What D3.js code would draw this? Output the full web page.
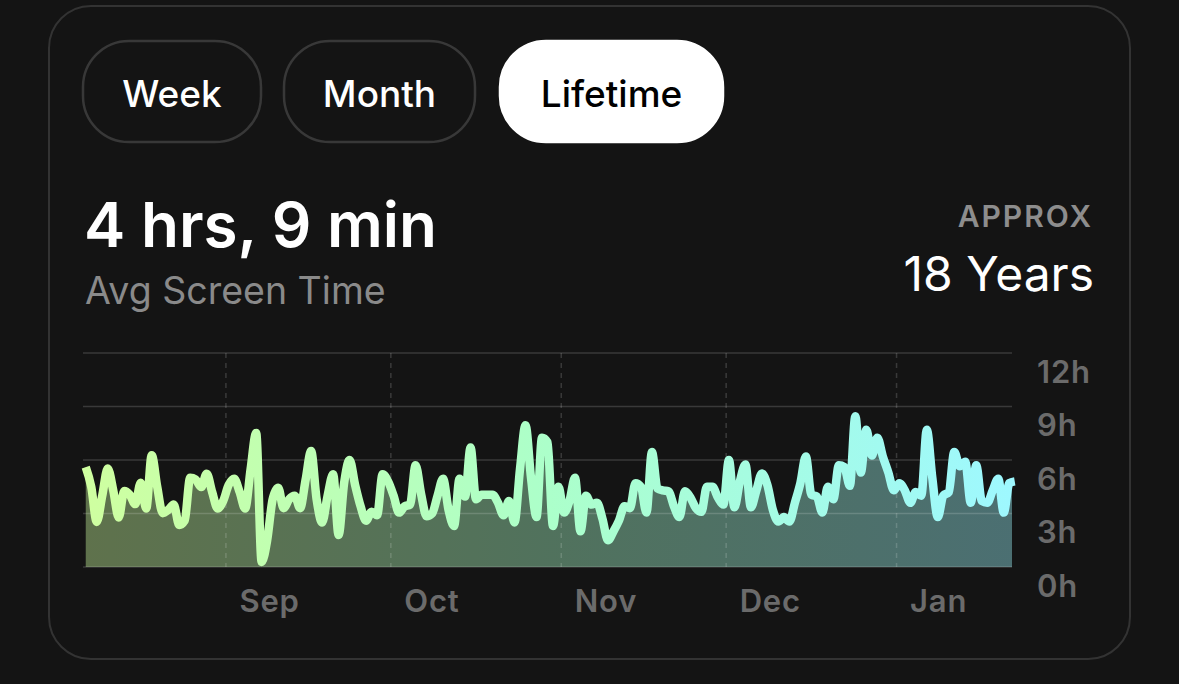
<!DOCTYPE html>
<html>
<head>
<meta charset="utf-8">
<script src="https://cdn.jsdelivr.net/npm/d3@7"></script>
<style>
  html, body { margin: 0; padding: 0; background: #141414; }
  svg { display: block; }
  text { font-family: Inter, "Noto Sans", sans-serif; }
</style>
</head>
<body>
<svg id="chart" width="1179" height="684"></svg>
<script>
// ---- data ----
const tabs = ["Week", "Month", "Lifetime"];
const selectedTab = "Lifetime";
const headline = "4 hrs, 9 min";
const subline = "Avg Screen Time";
const approxLabel = "APPROX";
const approxValue = "18 Years";

const startDay = "2023-08-06";
const hours = [
  5.6, 4.5, 2.53, 4.0, 5.52, 4.3, 2.78, 4.26, 4.05, 3.53,
  4.73, 3.28, 6.27, 4.5, 3.02, 3.2, 3.51, 2.35, 2.6, 5.0,
  4.9, 4.48, 5.23, 4.2, 3.28, 3.7, 4.6, 4.95, 4.2, 3.28,
  5.5, 7.52, 0.28, 1.5, 3.8, 4.45, 3.3, 3.8, 4.0, 3.3,
  4.9, 6.5, 3.8, 2.5, 4.0, 5.2, 1.8, 4.7, 6.0, 4.6,
  3.4, 2.6, 3.1, 2.9, 5.2, 4.8, 4.0, 3.05, 3.4, 3.5,
  5.7, 4.1, 2.85, 3.0, 4.0, 4.95, 3.2, 2.3, 4.95, 3.95,
  6.7, 3.8, 4.05, 4.05, 4.05, 3.6, 2.9, 3.7, 2.5, 5.5,
  7.95, 5.0, 2.8, 7.25, 7.0, 2.3, 4.5, 3.05, 3.7, 5.0,
  2.0, 4.0, 3.5, 3.6, 2.7, 1.5, 2.0, 2.6, 3.4, 3.3,
  4.7, 4.5, 3.05, 6.45, 4.4, 4.3, 4.25, 3.4, 2.8, 4.25,
  3.9, 3.3, 3.1, 4.5, 4.5, 3.9, 3.5, 6.0, 3.35, 4.8,
  5.75, 3.35, 4.3, 5.25, 4.6, 3.2, 2.55, 2.8, 2.55, 3.6,
  4.7, 6.2, 4.05, 3.95, 3.05, 4.5, 3.8, 5.7, 5.6, 4.55,
  8.45, 5.3, 7.7, 6.25, 7.25, 6.2, 5.3, 4.3, 4.7, 4.3,
  3.6, 4.2, 4.0, 7.7, 5.0, 2.8, 4.0, 4.2, 6.45, 5.65,
  5.9, 3.6, 5.7, 3.7, 3.6, 4.3, 4.95, 3.05, 4.7, 4.8
];
const domainStart = "2023-08-06";
const domainEnd = "2024-01-22";
const monthTicks = ["2023-09-01", "2023-10-01", "2023-11-01", "2023-12-01", "2024-01-01"];
const yTicks = [0, 3, 6, 9, 12];

// ---- drawing ----
const parse = d3.timeParse("%Y-%m-%d");
const start = parse(startDay);
const series = hours.map((h, i) => ({
  date: d3.timeHour.offset(d3.timeDay.offset(start, i), 12),
  value: h
}));

const svg = d3.select("#chart");
const bg = "#141414";

// card
svg.append("rect")
  .attr("x", 49).attr("y", 6).attr("width", 1081).attr("height", 653)
  .attr("rx", 42).attr("ry", 42)
  .attr("fill", bg).attr("stroke", "#333333").attr("stroke-width", 2);

// tabs
const tabBoxes = [
  { x: 83, w: 178 },
  { x: 284, w: 191 },
  { x: 500, w: 223 }
];
const tabG = svg.append("g");
tabs.forEach((t, i) => {
  const sel = t === selectedTab;
  const b = tabBoxes[i];
  tabG.append("rect")
    .attr("x", b.x).attr("y", 41).attr("width", b.w).attr("height", 101)
    .attr("rx", 46).attr("ry", 46)
    .attr("fill", sel ? "#ffffff" : bg)
    .attr("stroke", sel ? "#ffffff" : "#383838")
    .attr("stroke-width", 2.5);
  tabG.append("text")
    .attr("x", b.x + b.w / 2).attr("y", 107)
    .attr("text-anchor", "middle")
    .attr("font-size", 37).attr("font-weight", 500)
    .attr("fill", sel ? "#000000" : "#ffffff")
    .text(t);
});

// headline
svg.append("text").attr("x", 84).attr("y", 247)
  .attr("font-size", 62).attr("font-weight", 600).attr("fill", "#ffffff")
  .text(headline);
svg.append("text").attr("x", 85).attr("y", 304)
  .attr("font-size", 37.5).attr("font-weight", 400).attr("fill", "#8a8a8a")
  .text(subline);
svg.append("text").attr("x", 1093).attr("y", 227)
  .attr("text-anchor", "end")
  .attr("font-size", 30).attr("font-weight", 600).attr("fill", "#8d8d8d")
  .attr("letter-spacing", 2)
  .text(approxLabel);
svg.append("text").attr("x", 1094).attr("y", 291)
  .attr("text-anchor", "end")
  .attr("font-size", 48).attr("font-weight", 400).attr("fill", "#ffffff")
  .text(approxValue);

// scales
const x = d3.scaleTime().domain([parse(domainStart), parse(domainEnd)]).range([83, 1012]);
const y = d3.scaleLinear().domain([0, 12]).range([567, 353]);

// gradient
const defs = svg.append("defs");
const grad = defs.append("linearGradient").attr("id", "lineGrad")
  .attr("gradientUnits", "userSpaceOnUse")
  .attr("x1", 83).attr("x2", 1012).attr("y1", 0).attr("y2", 0);
[["0%", "#cfffa0"], ["50%", "#acffca"], ["100%", "#9ef8ff"]].forEach(([o, c]) =>
  grad.append("stop").attr("offset", o).attr("stop-color", c));
defs.append("clipPath").attr("id", "plotClip")
  .append("rect").attr("x", 83).attr("y", 340).attr("width", 929).attr("height", 227);

// area
const area = d3.area()
  .x(d => x(d.date)).y0(y(0)).y1(d => y(d.value))
  .curve(d3.curveMonotoneX);
svg.append("path").datum(series)
  .attr("clip-path", "url(#plotClip)")
  .attr("d", area)
  .attr("fill", "url(#lineGrad)").attr("fill-opacity", 0.4);

// horizontal grid
svg.append("g").selectAll("line").data(yTicks).join("line")
  .attr("x1", 83).attr("x2", 1012)
  .attr("y1", d => y(d)).attr("y2", d => y(d))
  .attr("stroke", "#ffffff").attr("stroke-opacity", 0.16).attr("stroke-width", 1.5);

// vertical dashed month lines
svg.append("g").selectAll("line").data(monthTicks.map(parse)).join("line")
  .attr("x1", d => x(d)).attr("x2", d => x(d))
  .attr("y1", y(12)).attr("y2", y(0))
  .attr("stroke", "#ffffff").attr("stroke-opacity", 0.16).attr("stroke-width", 1.5)
  .attr("stroke-dasharray", "5,5");

// line
const line = d3.line()
  .x(d => x(d.date)).y(d => y(d.value))
  .curve(d3.curveMonotoneX);
svg.append("path").datum(series)
  .attr("d", line)
  .attr("fill", "none").attr("stroke", "url(#lineGrad)")
  .attr("stroke-width", 8.5).attr("stroke-linejoin", "round").attr("stroke-linecap", "butt");

// y axis labels
const yAxis = svg.append("g").attr("transform", "translate(1012,0)")
  .call(d3.axisRight(y).tickValues(yTicks).tickFormat(d => d + "h").tickSize(0));
yAxis.select(".domain").remove();
yAxis.selectAll("text")
  .attr("x", 25).attr("y", 29).attr("dy", 0)
  .attr("text-anchor", "start")
  .attr("font-family", "Inter, sans-serif")
  .attr("font-size", 31).attr("font-weight", 600).attr("fill", "#6b6b6b")
  .attr("letter-spacing", 0.8);

// x axis labels
const xAxis = svg.append("g").attr("transform", "translate(0,567)")
  .call(d3.axisBottom(x).tickValues(monthTicks.map(parse)).tickFormat(d3.timeFormat("%b")).tickSize(0));
xAxis.select(".domain").remove();
xAxis.selectAll("text")
  .attr("x", 13).attr("y", 45).attr("dy", 0)
  .attr("text-anchor", "start")
  .attr("font-family", "Inter, sans-serif")
  .attr("font-size", 31).attr("font-weight", 600).attr("fill", "#6b6b6b")
  .attr("letter-spacing", 0.8);
</script>
</body>
</html>
